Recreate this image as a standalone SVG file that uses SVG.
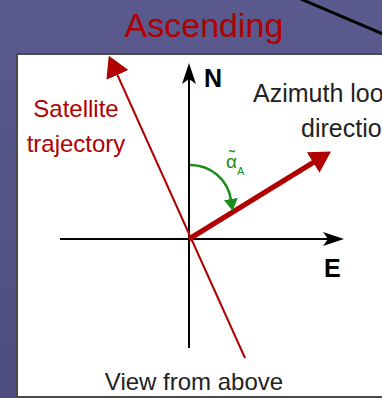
<svg xmlns="http://www.w3.org/2000/svg" width="382" height="398" viewBox="0 0 382 398">
<style>
.red{fill:#b00000;font-family:"Liberation Sans",Arial,sans-serif}
.txt{font-family:"Liberation Sans",Arial,sans-serif}
.ax{stroke:#000;stroke-width:2;fill:none}
</style>
<defs>
<linearGradient id="bg" x1="0" y1="0" x2="0" y2="1">
<stop offset="0" stop-color="#5a5a8f"/>
<stop offset="1" stop-color="#4d4d7f"/>
</linearGradient>
<marker id="axArrow" markerUnits="userSpaceOnUse" markerWidth="22" markerHeight="14" refX="5" refY="7" orient="auto" viewBox="0 0 22 14">
<path d="M0,0 L21,7 L0,14 L5,7 z" fill="#000"/>
</marker>
<marker id="redArrow" markerUnits="userSpaceOnUse" markerWidth="22" markerHeight="24" refX="1" refY="12" orient="auto" viewBox="0 0 22 24">
<path d="M0,0 L21,12 L0,24 z" fill="#b00000"/>
</marker>
<marker id="greenArrow" markerUnits="userSpaceOnUse" markerWidth="13" markerHeight="14" refX="1" refY="7" orient="auto" viewBox="0 0 13 14">
<path d="M0,0 L12,7 L0,14 z" fill="#1a8c1a"/>
</marker>
</defs>
<rect x="0" y="0" width="382" height="398" fill="url(#bg)"/>
<line x1="300" y1="-1.3" x2="392" y2="38" stroke="#000" stroke-width="3"/>
<text x="204" y="37" class="red" font-size="34" text-anchor="middle">Ascending</text>
<rect x="17" y="54" width="380" height="343" fill="#fff" stroke="#4a4a4a" stroke-width="2"/>
<g id="connectors">
<line id="axisN" class="ax" x1="189" y1="348" x2="189" y2="79" marker-end="url(#axArrow)"/>
<line id="axisE" class="ax" x1="60" y1="239" x2="328" y2="239" marker-end="url(#axArrow)"/>
<line id="trajectory" x1="245" y1="358" x2="117" y2="74" stroke="#b00000" stroke-width="2" marker-end="url(#redArrow)"/>
<line id="azimuth" x1="189" y1="239" x2="314" y2="162" stroke="#b00000" stroke-width="5" marker-end="url(#redArrow)"/>
<path id="angle" d="M190,165 A41,41 0 0 1 231,200" fill="none" stroke="#1a8c1a" stroke-width="2.5" marker-end="url(#greenArrow)"/>
</g>
<g id="labelN"><text x="204" y="87" class="txt" font-size="25" font-weight="bold" fill="#000">N</text></g>
<g id="labelE"><text x="324" y="277" class="txt" font-size="25" font-weight="bold" fill="#000">E</text></g>
<g id="satellite">
<text class="red" font-size="24" text-anchor="middle"><tspan x="76" y="117">Satellite</tspan><tspan x="76" y="152">trajectory</tspan></text>
</g>
<g id="azimuthLabel">
<text class="txt" font-size="25" fill="#222"><tspan x="253" y="102">Azimuth look</tspan><tspan x="301" y="137">direction</tspan></text>
</g>
<g id="alphaLabel" fill="#1a8c1a" class="txt">
<text x="232" y="163" font-size="18" text-anchor="middle">˜</text>
<text x="226" y="168" font-size="19">α<tspan font-size="11" dy="7">A</tspan></text>
</g>
<g id="view"><text x="194" y="390" class="txt" font-size="24" fill="#222" text-anchor="middle">View from above</text></g>
</svg>
